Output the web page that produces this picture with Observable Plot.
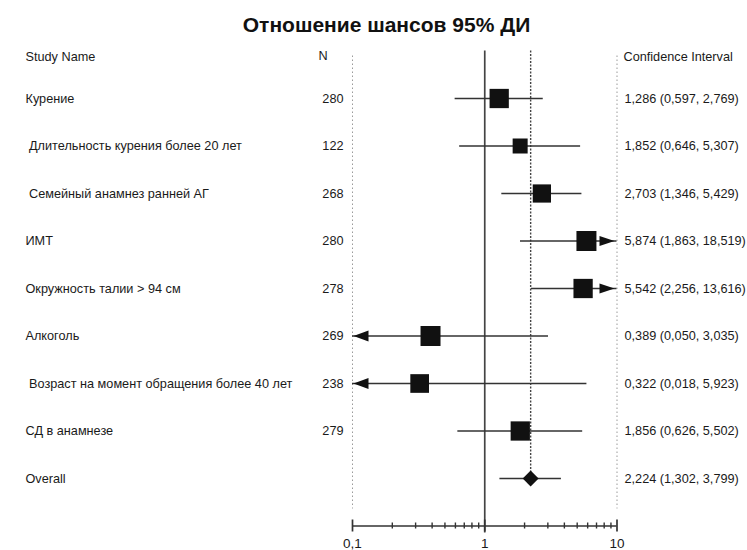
<!DOCTYPE html>
<html><head><meta charset="utf-8">
<script src="https://cdn.jsdelivr.net/npm/d3@7"></script>
<script src="https://cdn.jsdelivr.net/npm/@observablehq/plot@0.6"></script>
<style>body{margin:0;background:#fff}</style>
</head><body><div id="chart"></div>
<script>
const title = "Отношение шансов 95% ДИ";
const headerStudy = "Study Name";
const headerN = "N";
const headerCI = "Confidence Interval";
const studies = [
  "Курение",
  "\u00a0Длительность курения более 20 лет",
  "\u00a0Семейный анамнез ранней АГ",
  "ИМТ",
  "Окружность талии > 94 см",
  "Алкоголь",
  "\u00a0Возраст на момент обращения более 40 лет",
  "СД в анамнезе"
];
const nValues = [280, 122, 268, 280, 278, 269, 238, 279];
const orValues = [1.286, 1.852, 2.703, 5.874, 5.542, 0.389, 0.322, 1.856];
const lowerCI = [0.597, 0.646, 1.346, 1.863, 2.256, 0.050, 0.018, 0.626];
const upperCI = [2.769, 5.307, 5.429, 18.519, 13.616, 3.035, 5.923, 5.502];
const weights = [13.2, 8.0, 11.8, 14.2, 13.2, 14.2, 12.4, 13.2];
const overallLabel = "Overall";
const overallOR = 2.224, overallLo = 1.302, overallHi = 3.799;
const tickValues = [0.1, 1, 10];
const tickLabels = ["0,1", "1", "10"];
const minorTicks = [0.2,0.3,0.4,0.5,0.6,0.7,0.8,0.9,2,3,4,5,6,7,8,9];

const rows = studies.map((name, i) => ({
  name, row: i + 1, n: nValues[i], or: orValues[i], lo: lowerCI[i], hi: upperCI[i], w: weights[i]
}));
const overallRow = {name: overallLabel, row: studies.length + 1, n: "", or: overallOR, lo: overallLo, hi: overallHi};
const all = [...rows, overallRow];
const xMin = tickValues[0], xMax = tickValues[tickValues.length - 1];
const axisRow = studies.length + 2;
const fmt = v => d3.format(".3f")(v).replace(".", ",");
const ciText = d => `${fmt(d.or)} (${fmt(d.lo)}, ${fmt(d.hi)})`;

const arrowRight = {draw(ctx) { ctx.moveTo(0, 0); ctx.lineTo(-15, -5); ctx.lineTo(-15, 5); ctx.closePath(); }};
const arrowLeft = {draw(ctx) { ctx.moveTo(0, 0); ctx.lineTo(15, -5.5); ctx.lineTo(15, 5.5); ctx.closePath(); }};

const ink = "#1a1a1a";
const chart = Plot.plot({
  width: 747, height: 550, margin: 0,
  x: {type: "log", domain: [xMin, xMax], range: [352, 616.5], axis: null},
  y: {domain: [0, axisRow], range: [50.5, 525.5], axis: null},
  r: {type: "sqrt", domain: [0, d3.max(weights)], range: [0, 11.28]},
  style: {fontFamily: "'Liberation Sans', Arial, sans-serif", fontSize: "12.7px", color: ink, background: "#fff", overflow: "visible"},
  marks: [
    Plot.ruleX([xMin, xMax], {y1: 0, y2: axisRow, insetTop: 5, insetBottom: 17, stroke: "#9a9a9a", strokeDasharray: "1.5,2.5"}),
    Plot.ruleX([1], {y1: 0, y2: axisRow, insetBottom: -7, stroke: "#444", strokeWidth: 1.7}),
    Plot.ruleX([overallOR], {y1: 0, y2: overallRow.row, stroke: "#444", strokeDasharray: "2,1.5", strokeWidth: 1.4}),
    Plot.ruleY([axisRow], {x1: xMin, x2: xMax, stroke: "#333", strokeWidth: 1.7}),
    Plot.ruleX(tickValues, {y1: axisRow, y2: axisRow, insetTop: -6, insetBottom: -6, stroke: "#333", strokeWidth: 1.7}),
    Plot.ruleX(minorTicks, {y1: axisRow, y2: axisRow, insetTop: -3, insetBottom: -3, stroke: "#333", strokeWidth: 1.4}),
    Plot.text(tickValues, {x: d => d, y: axisRow, dy: 18, text: (d, i) => tickLabels[i], fontSize: 13.5, fill: ink}),
    Plot.ruleY(all, {y: "row", x1: d => Math.max(d.lo, xMin), x2: d => Math.min(d.hi, xMax), stroke: "#333", strokeWidth: 1.7}),
    Plot.dot(rows, {x: "or", y: "row", r: "w", symbol: "square", fill: "#111", stroke: "none"}),
    Plot.dot([overallRow], {x: "or", y: "row", r: 7.2, symbol: "diamond2", fill: "#111", stroke: "none"}),
    Plot.dot(all.filter(d => d.hi > xMax), {x: () => xMax, y: "row", r: 5, symbol: arrowRight, fill: "#111", stroke: "none", dx: -2.5}),
    Plot.dot(all.filter(d => d.lo < xMin), {x: () => xMin, y: "row", r: 5, symbol: arrowLeft, fill: "#111", stroke: "none", dx: 1}),
    Plot.text([title], {frameAnchor: "top-left", dx: 386, dy: 25, lineAnchor: "middle", textAnchor: "middle", fontWeight: "bold", fontSize: 21, fill: "#111"}),
    Plot.text([headerStudy], {y: 0, frameAnchor: "left", dx: 25, dy: 6, textAnchor: "start", fill: ink}),
    Plot.text([headerN], {y: 0, frameAnchor: "left", dx: 318, dy: 5, textAnchor: "start", fill: ink}),
    Plot.text([headerCI], {y: 0, frameAnchor: "left", dx: 623, dy: 6, textAnchor: "start", fill: ink}),
    Plot.text(all, {y: "row", text: "name", frameAnchor: "left", dx: 25, textAnchor: "start", fill: ink}),
    Plot.text(rows, {y: "row", text: "n", frameAnchor: "left", dx: 343, textAnchor: "end", fill: ink}),
    Plot.text(all, {y: "row", text: ciText, frameAnchor: "left", dx: 624, textAnchor: "start", fill: ink})
  ]
});
document.getElementById("chart").append(chart);
</script>
</body></html>
